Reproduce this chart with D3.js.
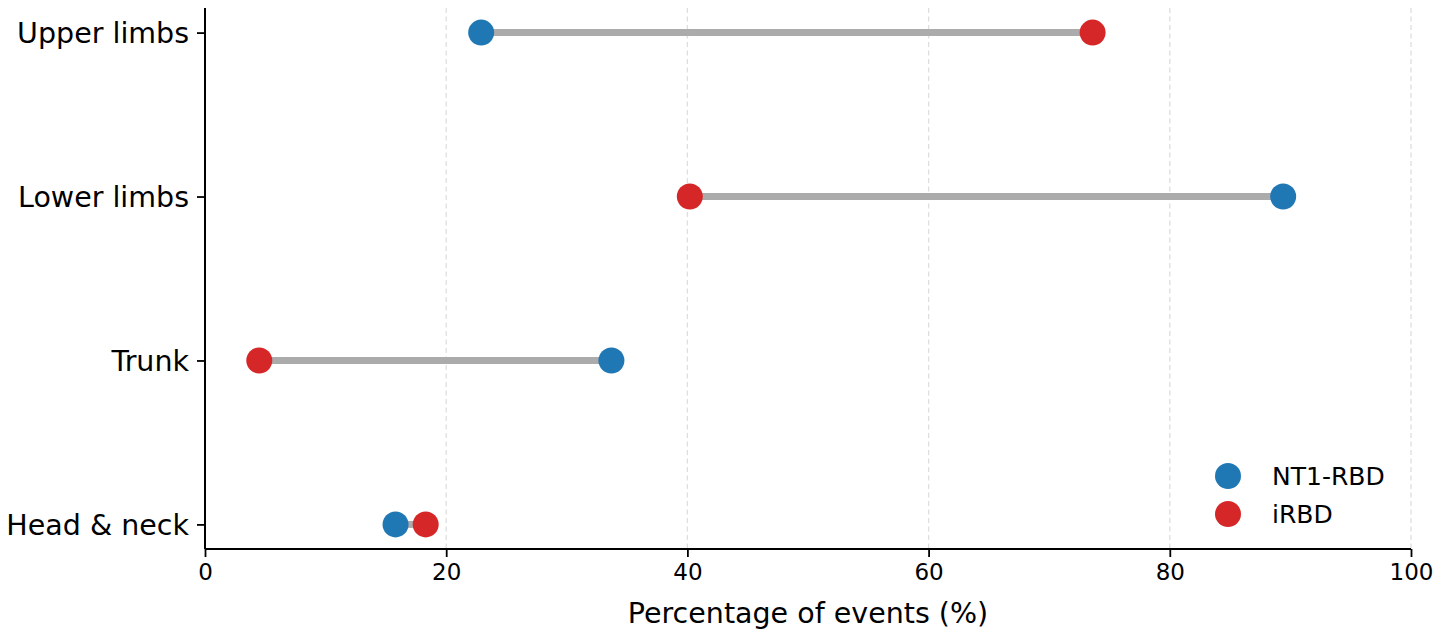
<!DOCTYPE html>
<html lang="en">
<head>
    <meta charset="UTF-8">
    <script src="https://d3js.org/d3.v7.min.js"></script>
    <style>
        body {
            margin: 0;
            padding: 0;
            background: #ffffff;
        }
        svg text {
            font-family: "DejaVu Sans", sans-serif;
            fill: #000000;
        }
    </style>
</head>
<body>
    <div id="chart"></div>
    <script>
        // Data
        const categories = ["Upper limbs", "Lower limbs", "Trunk", "Head & neck"];
        const nt1Values = [22.9, 89.4, 33.7, 15.8];
        const irbdValues = [73.6, 40.2, 4.5, 18.3];
        const seriesNames = ["NT1-RBD", "iRBD"];
        const seriesColors = ["#1f77b4", "#d62728"];
        const xTicks = [0, 20, 40, 60, 80, 100];

        const width = 1441;
        const height = 635;
        const margin = {top: 8, right: 30, bottom: 86, left: 205};

        const svg = d3.select("#chart").append("svg")
            .attr("width", width)
            .attr("height", height);

        const x = d3.scaleLinear()
            .domain([0, 100])
            .range([margin.left, width - margin.right]);

        const y = d3.scalePoint()
            .domain(categories)
            .range([margin.top, height - margin.bottom])
            .padding(0.15);

        // Dashed vertical grid
        svg.append("g")
            .selectAll("line")
            .data(xTicks.filter(d => d > 0))
            .enter().append("line")
            .attr("x1", d => x(d))
            .attr("x2", d => x(d))
            .attr("y1", margin.top)
            .attr("y2", height - margin.bottom)
            .attr("stroke", "#dedede")
            .attr("stroke-width", 1.3)
            .attr("stroke-dasharray", "5,3.5");

        const rows = categories.map((c, i) => ({category: c, nt1: nt1Values[i], irbd: irbdValues[i]}));

        // Connectors
        svg.append("g")
            .selectAll("line")
            .data(rows)
            .enter().append("line")
            .attr("x1", d => x(d.nt1))
            .attr("x2", d => x(d.irbd))
            .attr("y1", d => y(d.category))
            .attr("y2", d => y(d.category))
            .attr("stroke", "#ababab")
            .attr("stroke-width", 7);

        // Points
        const seriesValues = [nt1Values, irbdValues];
        seriesValues.forEach((vals, s) => {
            svg.append("g")
                .selectAll("circle")
                .data(vals)
                .enter().append("circle")
                .attr("cx", d => x(d))
                .attr("cy", (d, i) => y(categories[i]))
                .attr("r", 13)
                .attr("fill", seriesColors[s]);
        });

        // X axis
        const xAxis = svg.append("g")
            .attr("transform", `translate(0,${height - margin.bottom})`)
            .call(d3.axisBottom(x).tickValues(xTicks).tickSize(8).tickPadding(7));
        xAxis.selectAll("text").style("font-size", "23px");

        // Y axis
        const yAxis = svg.append("g")
            .attr("transform", `translate(${margin.left},0)`)
            .call(d3.axisLeft(y).tickSize(8).tickPadding(8));
        yAxis.selectAll("text").style("font-size", "28.5px").attr("dy", "0.35em");

        [xAxis, yAxis].forEach(a => {
            a.select(".domain").attr("stroke", "#000").attr("stroke-width", 2);
            a.selectAll(".tick line").attr("stroke", "#000").attr("stroke-width", 1.8);
        });
        // matplotlib-style axes: spine without end caps
        xAxis.select(".domain").attr("d", `M${x(0)},0H${x(100)}`);
        yAxis.select(".domain").attr("d", `M0,${margin.top}V${height - margin.bottom}`);

        // X label
        svg.append("text")
            .attr("x", (x(0) + x(100)) / 2)
            .attr("y", 623)
            .attr("text-anchor", "middle")
            .style("font-size", "28.5px")
            .text("Percentage of events (%)");

        // Legend
        const legend = svg.append("g")
            .selectAll("g")
            .data(seriesNames)
            .enter().append("g")
            .attr("transform", (d, i) => `translate(1228,${476 + i * 38})`);
        legend.append("circle")
            .attr("r", 13)
            .attr("fill", (d, i) => seriesColors[i]);
        legend.append("text")
            .attr("x", 44)
            .attr("dy", "0.35em")
            .style("font-size", "25px")
            .text(d => d);
    </script>
</body>
</html>
